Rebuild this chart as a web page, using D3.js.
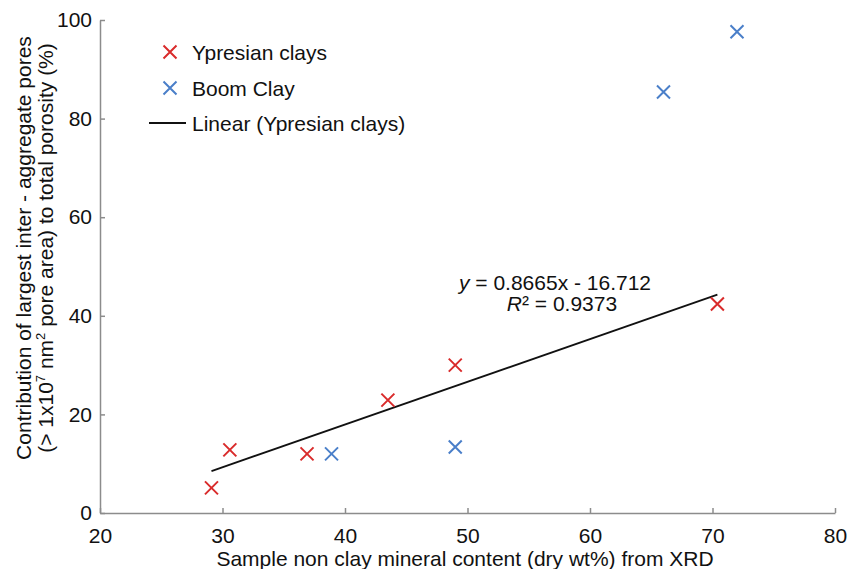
<!DOCTYPE html>
<html>
<head>
<meta charset="utf-8">
<script src="https://cdn.jsdelivr.net/npm/d3@7"></script>
<style>
  body { margin: 0; background: #fff; }
  text { font-family: "Liberation Sans", Arial, sans-serif; fill: #111; }
</style>
</head>
<body>
<svg width="848" height="569"></svg>
<script>
// data
let ypresX = [29.1, 30.6, 36.9, 43.5, 49.0, 70.4]
let ypresY = [5.1, 12.8, 12.0, 22.9, 30.0, 42.4]
let boomX = [38.9, 49.0, 66.0, 72.0]
let boomY = [12.0, 13.4, 85.4, 97.6]
let xTicks = [20, 30, 40, 50, 60, 70, 80]
let yTicks = [0, 20, 40, 60, 80, 100]
let slope = 0.8665
let intercept = -16.712

let fs = "21px"
let svg = d3.select("svg")

let x = d3.scaleLinear().domain([20, 80]).range([100, 835])
let y = d3.scaleLinear().domain([0, 100]).range([513, 20])

// axes (ticks point inward, like Excel)
let xAxis = svg.append("g")
  .attr("transform", "translate(0,513)")
  .call(d3.axisBottom(x).tickValues(xTicks).tickSizeInner(-5).tickSizeOuter(0).tickPadding(15))
let yAxis = svg.append("g")
  .attr("transform", "translate(100,0)")
  .call(d3.axisLeft(y).tickValues(yTicks).tickSizeInner(-5).tickSizeOuter(0).tickPadding(8))

for (let ax of [xAxis, yAxis]) {
  ax.select(".domain").attr("stroke", "#8c8c8c").attr("stroke-width", 1.5)
  ax.selectAll(".tick line").attr("stroke", "#8c8c8c").attr("stroke-width", 1.5)
  ax.selectAll(".tick text")
    .style("font-family", "Liberation Sans, Arial, sans-serif")
    .style("font-size", fs)
    .attr("fill", "#111")
}

// trendline over the Ypresian x range
let x0 = d3.min(ypresX), x1 = d3.max(ypresX)
svg.append("line")
  .attr("x1", x(x0)).attr("y1", y(slope * x0 + intercept))
  .attr("x2", x(x1)).attr("y2", y(slope * x1 + intercept))
  .attr("stroke", "#111")
  .attr("stroke-width", 1.8)

let red = "#d92b2b"
let blue = "#4a7fc9"

let cross = (g, cx, cy, color) => {
  let s = 6.5
  g.append("path")
    .attr("d", `M${cx - s},${cy - s}L${cx + s},${cy + s}M${cx - s},${cy + s}L${cx + s},${cy - s}`)
    .attr("stroke", color)
    .attr("stroke-width", 2)
    .attr("fill", "none")
}

ypresX.forEach((v, i) => cross(svg, x(v), y(ypresY[i]), red))
boomX.forEach((v, i) => cross(svg, x(v), y(boomY[i]), blue))

// legend
cross(svg, 170, 52, red)
svg.append("text").attr("x", 192).attr("y", 60).style("font-size", fs).text("Ypresian clays")
cross(svg, 170, 88, blue)
svg.append("text").attr("x", 192).attr("y", 96).style("font-size", fs).text("Boom Clay")
svg.append("line")
  .attr("x1", 149).attr("x2", 186).attr("y1", 123).attr("y2", 123)
  .attr("stroke", "#111").attr("stroke-width", 1.8)
svg.append("text").attr("x", 192).attr("y", 131).style("font-size", fs).text("Linear (Ypresian clays)")

// equation label
let eq = svg.append("text").attr("x", 555).attr("y", 290)
  .attr("text-anchor", "middle").style("font-size", fs)
eq.append("tspan").style("font-style", "italic").text("y")
eq.append("tspan").text(" = 0.8665x - 16.712")
let r2 = svg.append("text").attr("x", 562).attr("y", 311)
  .attr("text-anchor", "middle").style("font-size", fs)
r2.append("tspan").style("font-style", "italic").text("R")
r2.append("tspan").text("² = 0.9373")

// axis titles
svg.append("text")
  .attr("x", 465).attr("y", 566)
  .attr("text-anchor", "middle")
  .style("font-size", fs)
  .text("Sample non clay mineral content (dry wt%) from XRD")

let yt = svg.append("g").attr("transform", "translate(0,248) rotate(-90)")
yt.append("text")
  .attr("x", 0).attr("y", 31)
  .attr("text-anchor", "middle")
  .style("font-size", fs)
  .text("Contribution of largest inter - aggregate pores")
let l2 = yt.append("text")
  .attr("x", 0).attr("y", 53)
  .attr("text-anchor", "middle")
  .style("font-size", fs)
l2.append("tspan").text("(> 1x10")
l2.append("tspan").attr("dy", -8).style("font-size", "13px").text("7")
l2.append("tspan").attr("dy", 8).text(" nm")
l2.append("tspan").attr("dy", -8).style("font-size", "13px").text("2")
l2.append("tspan").attr("dy", 8).text(" pore area) to total porosity (%)")
</script>
</body>
</html>
